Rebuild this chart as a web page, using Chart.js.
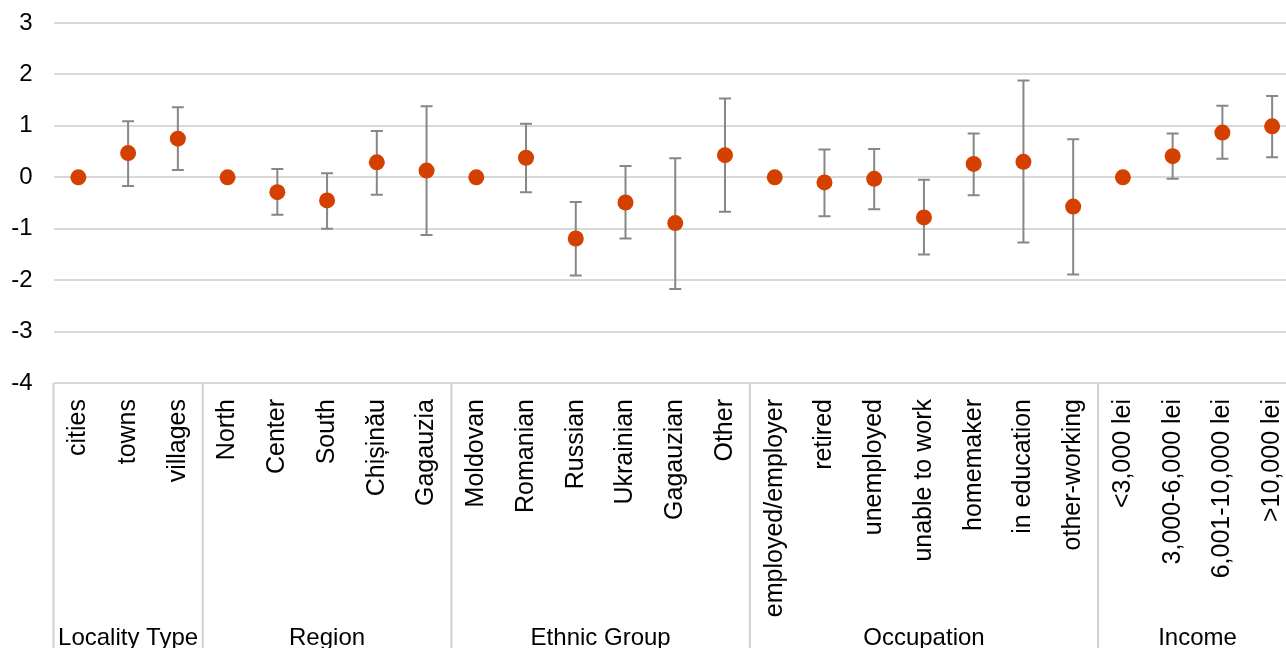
<!DOCTYPE html>
<html>
<head>
<meta charset="utf-8">
<script src="https://cdn.jsdelivr.net/npm/chart.js@4"></script>
<style>
  html, body { margin: 0; padding: 0; overflow: hidden; background: #fff; }
  #wrap { position: relative; width: 1305px; height: 648px; }
</style>
</head>
<body>
<div id="wrap"><canvas id="c" width="1305" height="648"></canvas></div>
<script>
// Category labels along the x axis, in display order
const categories = [
  'cities', 'towns', 'villages',
  'North', 'Center', 'South', 'Chișinău', 'Gagauzia',
  'Moldovan', 'Romanian', 'Russian', 'Ukrainian', 'Gagauzian', 'Other',
  'employed/employer', 'retired', 'unemployed', 'unable to work', 'homemaker', 'in education', 'other-working',
  '<3,000 lei', '3,000-6,000 lei', '6,001-10,000 lei', '>10,000 lei'
];

// Second-level grouping of the categories
const groupNames = ['Locality Type', 'Region', 'Ethnic Group', 'Occupation', 'Income'];
const groupSizes = [3, 5, 6, 7, 4];

// Point estimates (reference categories sit at 0)
const estimates = [
  0, 0.47, 0.75,
  0, -0.29, -0.45, 0.29, 0.13,
  0, 0.38, -1.19, -0.49, -0.89, 0.43,
  0, -0.10, -0.03, -0.78, 0.26, 0.30, -0.57,
  0, 0.41, 0.87, 0.99
];

// Confidence interval bounds (null = reference category, no interval)
const lowerBounds = [
  null, -0.17, 0.14,
  null, -0.73, -1.00, -0.34, -1.12,
  null, -0.29, -1.91, -1.19, -2.17, -0.67,
  null, -0.76, -0.62, -1.50, -0.35, -1.27, -1.89,
  null, -0.03, 0.36, 0.39
];
const upperBounds = [
  null, 1.09, 1.36,
  null, 0.16, 0.08, 0.90, 1.38,
  null, 1.04, -0.48, 0.22, 0.37, 1.53,
  null, 0.54, 0.55, -0.05, 0.85, 1.88, 0.74,
  null, 0.85, 1.39, 1.58
];

// Value axis range and step
const yMin = -4, yMax = 3, yStep = 1;

const FONT = "'Liberation Sans', Arial, sans-serif";

// Draws the interval whiskers behind the points
const errorBarPlugin = {
  id: 'errorBars',
  beforeDatasetsDraw(chart) {
    const { ctx, scales: { x, y } } = chart;
    ctx.save();
    ctx.strokeStyle = '#878787';
    ctx.lineWidth = 2;
    const cap = 6;
    for (let i = 0; i < categories.length; i++) {
      if (lowerBounds[i] == null) continue;
      const px = x.getPixelForValue(i);
      const lo = y.getPixelForValue(lowerBounds[i]);
      const hi = y.getPixelForValue(upperBounds[i]);
      ctx.beginPath();
      ctx.moveTo(px, lo); ctx.lineTo(px, hi);
      ctx.moveTo(px - cap, lo); ctx.lineTo(px + cap, lo);
      ctx.moveTo(px - cap, hi); ctx.lineTo(px + cap, hi);
      ctx.stroke();
    }
    ctx.restore();
  }
};

// Group separators and group titles under the category labels
const groupAxisPlugin = {
  id: 'groupAxis',
  afterDraw(chart) {
    const { ctx, chartArea, scales: { x } } = chart;
    const bottom = chart.height;
    ctx.save();
    ctx.strokeStyle = '#d0d0d0';
    ctx.lineWidth = 2;
    ctx.fillStyle = '#000';
    ctx.font = `24px ${FONT}`;
    ctx.textAlign = 'center';
    ctx.textBaseline = 'alphabetic';
    let start = 0;
    const edges = [];
    for (let g = 0; g < groupSizes.length; g++) {
      const left = x.getPixelForValue(start - 0.5);
      const right = x.getPixelForValue(start + groupSizes[g] - 0.5);
      edges.push(left);
      if (g === groupSizes.length - 1) edges.push(right);
      ctx.fillText(groupNames[g], (left + right) / 2, 645);
      start += groupSizes[g];
    }
    ctx.beginPath();
    edges.forEach(e => {
      ctx.moveTo(e, chartArea.bottom);
      ctx.lineTo(e, bottom);
    });
    ctx.stroke();
    ctx.restore();
  }
};

new Chart(document.getElementById('c'), {
  type: 'line',
  data: {
    labels: categories,
    datasets: [{
      data: estimates,
      showLine: false,
      pointRadius: 8,
      pointHoverRadius: 8,
      pointBackgroundColor: '#D44000',
      pointBorderWidth: 0
    }]
  },
  options: {
    responsive: false,
    animation: false,
    events: [],
    layout: { padding: { top: 23, right: 3, left: 0, bottom: 0 } },
    plugins: { legend: { display: false }, tooltip: { enabled: false } },
    scales: {
      x: {
        type: 'category',
        offset: true,
        grid: { display: false, drawTicks: false },
        border: { display: false },
        ticks: {
          autoSkip: false,
          minRotation: 90,
          maxRotation: 90,
          padding: 16,
          color: '#000',
          font: { family: FONT, size: 25 }
        },
        afterFit(scale) {
          scale.height = 265;
          scale.paddingLeft = 0;
          scale.paddingRight = 0;
        }
      },
      y: {
        min: yMin,
        max: yMax,
        ticks: {
          stepSize: yStep,
          padding: 21,
          color: '#000',
          font: { family: FONT, size: 24 }
        },
        grid: { color: '#d9d9d9', lineWidth: 2, drawTicks: false },
        border: { display: false },
        afterFit(scale) {
          scale.width = 53.5;
          scale.paddingTop = 0;
          scale.paddingBottom = 0;
        }
      }
    }
  },
  plugins: [errorBarPlugin, groupAxisPlugin]
});
</script>
</body>
</html>
